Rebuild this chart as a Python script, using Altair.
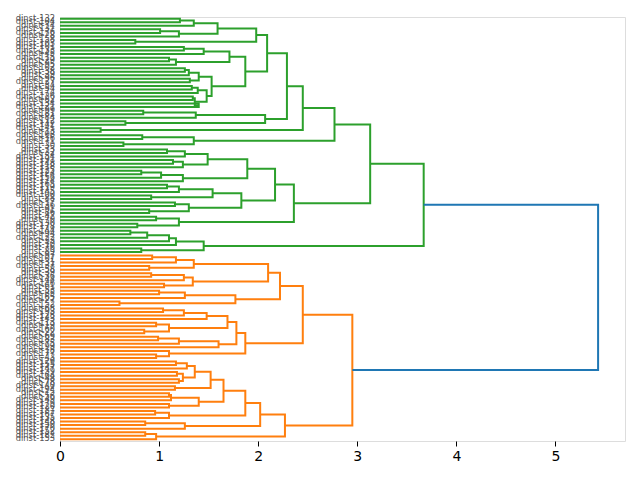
import altair as alt
import pandas as pd

L = None  # leaf placeholder, filled top-to-bottom from LEAF_LABELS

# merges: (height, upper child, lower child)
gA = (1.59, (1.35, (1.21, L, L), L), (1.20, (1.01, L, L), L))
gB = (0.76, L, L)
gC = (1.87,
      (1.71, (1.45, (1.25, L, L), L), (1.17, (1.10, L, L), L)),
      (1.53, (1.40, (1.30, (1.26, L, L), L), (1.31, L, L)),
             (1.48, (1.39, (1.33, L, L), L), (1.36, (1.34, L, L), (1.40, L, L)))))
gD = (2.07, (1.37, (0.84, L, L), L), (0.66, L, L))
g_upper = (2.77, (2.45, (2.29, (2.09, (1.98, gA, gB), gC), gD), (0.41, L, L)),
                 (1.35, (0.83, L, L), (0.64, L, L)))
gE = (1.89, (1.49, (1.26, (1.08, L, L), L), (1.24, (1.14, L, L), L)),
            (1.24, (1.02, (0.82, L, L), L), L))
gF = (1.83, (1.54, (1.20, (1.08, L, L), L), (0.92, L, L)),
            (1.30, (1.16, L, L), (0.90, L, L)))
gG = (1.20, (0.97, L, L), (0.78, L, L))
g_lower = (2.36, (2.17, gE, gF), gG)
gH = (1.45, (1.17, (1.10, (0.88, (0.71, L, L), L), L), L), (0.82, L, L))
green = (3.67, (3.13, g_upper, g_lower), gH)

oA = (2.10, (1.35, (1.17, (0.93, L, L), L), (0.90, L, L)),
            (1.34, (1.25, (0.92, L, L), L), (1.05, L, L)))
oB = (1.77, (1.26, (1.00, L, L), L), (0.60, L, L))
oC = (1.87, (1.78, (1.69, (1.48, (1.25, (1.04, L, L), L), L), (1.10, (0.97, L, L), (0.85, L, L))),
                   (1.60, (1.20, (0.99, L, L), L), L)),
            (1.10, L, (0.97, L, L)))
o_upper = (2.45, (2.22, oA, oB), oC)
oD = (1.87, (1.65, (1.52, (1.36, (1.28, (1.17, L, L), L), (1.24, (1.18, L, L), (1.20, L, L))),
                          (1.16, L, L)),
                   (1.40, (1.12, (1.10, L, L), L), (1.10, L, L))),
            (1.10, (0.96, L, L), L))
o_lower = (2.27, (2.02, oD, (1.26, (0.86, L, L), L)), (0.97, (0.86, L, L), L))
orange = (2.95, o_upper, o_lower)

ROOT_HEIGHT = 5.43

LEAF_LABELS = [
    "dinst-132", "dinst-104", "dinst-74", "dinst-131", "dinst-176", "dinst-28",
    "dinst-158", "dinst-103", "dinst-101", "dinst-133", "dinst-45", "dinst-115",
    "dinst-29", "dinst-95", "dinst-102", "dinst-38", "dinst-39", "dinst-96",
    "dinst-127", "dinst-34", "dinst-54", "dinst-174", "dinst-126", "dinst-82",
    "dinst-134", "dinst-121", "dinst-99", "dinst-181", "dinst-84", "dinst-112",
    "dinst-142", "dinst-141", "dinst-13", "dinst-108", "dinst-16", "dinst-171",
    "dinst-30", "dinst-73", "dinst-32", "dinst-154", "dinst-191", "dinst-148",
    "dinst-118", "dinst-125", "dinst-124", "dinst-156", "dinst-114", "dinst-165",
    "dinst-119", "dinst-145", "dinst-100", "dinst-88", "dinst-17", "dinst-136",
    "dinst-91", "dinst-86", "dinst-42", "dinst-70", "dinst-130", "dinst-178",
    "dinst-144", "dinst-94", "dinst-122", "dinst-33", "dinst-10", "dinst-76",
    "dinst-89", "dinst-97", "dinst-107", "dinst-31", "dinst-137", "dinst-58",
    "dinst-39", "dinst-36", "dinst-144", "dinst-146", "dinst-61", "dinst-53",
    "dinst-85", "dinst-165", "dinst-27", "dinst-152", "dinst-68", "dinst-193",
    "dinst-128", "dinst-143", "dinst-113", "dinst-19", "dinst-160", "dinst-22",
    "dinst-69", "dinst-183", "dinst-75", "dinst-199", "dinst-18", "dinst-177",
    "dinst-43", "dinst-129", "dinst-155", "dinst-147", "dinst-139", "dinst-164",
    "dinst-48", "dinst-78", "dinst-140", "dinst-194", "dinst-15", "dinst-56",
    "dinst-149", "dinst-179", "dinst-120", "dinst-187", "dinst-167", "dinst-135",
    "dinst-148", "dinst-150", "dinst-170", "dinst-152", "dinst-182", "dinst-153",
    "dinst-148",
]

GREEN, ORANGE, BLUE = "#2ca02c", "#ff7f0e", "#1f77b4"


def count(node):
    if node is None:
        return 1
    return count(node[1]) + count(node[2])


N = count(green) + count(orange)
links = []
leaves = []
state = {"i": 0, "k": 0}


def walk(node, color):
    if node is None:
        i = state["i"]
        state["i"] += 1
        y = 10 * (N - i) - 5
        leaves.append({"y": y, "label": LEAF_LABELS[i % len(LEAF_LABELS)]})
        return y, 0.0
    h, a, b = node
    ya, ha = walk(a, color)
    yb, hb = walk(b, color)
    k = state["k"]
    state["k"] += 1
    for o, (x, y) in enumerate([(ha, ya), (h, ya), (h, yb), (hb, yb)]):
        links.append({"link": k, "order": o, "x": x, "y": y, "color": color})
    return (ya + yb) / 2, h


ya, ha = walk(green, GREEN)
yb, hb = walk(orange, ORANGE)
for o, (x, y) in enumerate([(ha, ya), (ROOT_HEIGHT, ya), (ROOT_HEIGHT, yb), (hb, yb)]):
    links.append({"link": 9999, "order": o, "x": x, "y": y, "color": BLUE})

df = pd.DataFrame(links)
ldf = pd.DataFrame(leaves)
xmax = ROOT_HEIGHT * 1.05

lines = alt.Chart(df).mark_line(strokeWidth=2).encode(
    x=alt.X("x:Q", scale=alt.Scale(domain=[0, xmax], nice=False, zero=False),
            axis=alt.Axis(values=[0, 1, 2, 3, 4, 5], format="d", title=None, grid=False,
                          domain=False, tickColor="black", tickSize=5, tickWidth=1,
                          labelFontSize=14, labelFont="DejaVu Sans", labelColor="black",
                          labelPadding=3, labelFlush=False)),
    y=alt.Y("y:Q", scale=alt.Scale(domain=[0, 10 * N], nice=False, zero=False), axis=None),
    detail="link:N",
    order="order:Q",
    color=alt.Color("color:N", scale=None),
)

labels = alt.Chart(ldf).mark_text(align="right", baseline="middle", fontSize=8.3,
                                  font="DejaVu Sans", fill="#555555", dx=-5).encode(
    x=alt.value(0), y=alt.Y("y:Q"), text="label:N")

chart = alt.layer(lines, labels).properties(
    width=565, height=424, autosize="none",
    padding={"left": 60, "top": 17, "right": 15, "bottom": 39},
).configure_view(stroke="black", strokeWidth=1).configure(background="white")

chart.save("out.html", embed_options={"renderer": "svg", "actions": False})
